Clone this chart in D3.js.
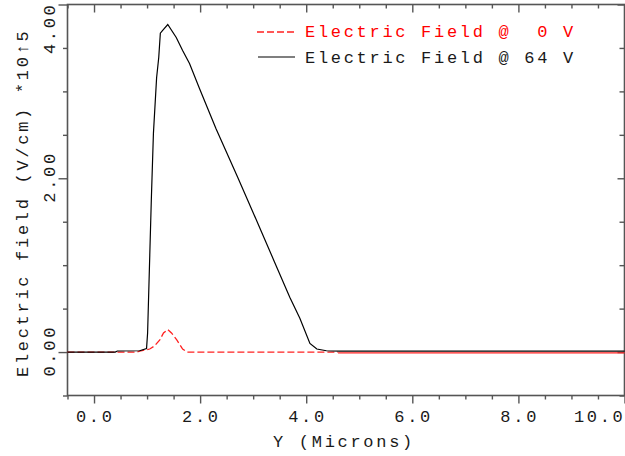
<!DOCTYPE html>
<html>
<head>
<meta charset="utf-8">
<script src="https://cdn.jsdelivr.net/npm/d3@7"></script>
<style>
    body { margin: 0; background: #fff; }
    svg { display: block; }
    text { font-family: "Liberation Mono", "DejaVu Sans Mono", monospace; font-size: 17px; letter-spacing: 2.7px; fill: #1a1a1a; }
</style>
</head>
<body>
<script>
"use strict";

// Black curve: Electric Field @ 64 V (units of 1e5 V/cm)
const xBlack = [-0.5, 0.40, 0.44, 0.86, 0.99, 1.01, 1.08, 1.12, 1.18, 1.22, 1.25, 1.29, 1.39, 1.55, 1.67, 1.80,
    1.99, 2.30, 2.71, 3.16, 3.40, 3.69, 3.88, 4.07, 4.20, 4.38, 4.62, 6.0, 8.0, 10.0];
const yBlack = [0, 0, 0.012, 0.015, 0.04, 0.22, 1.75, 2.52, 3.16, 3.39, 3.67, 3.70, 3.77, 3.62, 3.47, 3.32,
    3.03, 2.57, 2.01, 1.38, 1.04, 0.63, 0.39, 0.10, 0.035, 0.015, 0.01, 0.01, 0.01, 0.01];

// Red curve: Electric Field @ 0 V
const xRed = [-0.5, 0.80, 0.86, 1.05, 1.14, 1.24, 1.31, 1.39, 1.46, 1.56, 1.67, 1.76, 4.6, 6.0, 8.0, 10.0];
const yRed = [0, 0, 0.01, 0.035, 0.07, 0.14, 0.22, 0.26, 0.22, 0.14, 0.035, 0, 0, 0, 0, 0];

const xTickValues = [0, 2, 4, 6, 8, 10];
const xTickLabels = ["0.0", "2.0", "4.0", "6.0", "8.0", "10.0"];
const yTickValues = [0, 2, 4];
const yTickLabels = ["0.00", "2.00", "4.00"];

const legendNames = ["Electric Field @\u00A0\u00A00 V", "Electric Field @ 64 V"];

const width = 625, height = 456;
const pLeft = 67.5, pRight = 624.5, pTop = 4.5, pBottom = 395.5;

const svg = d3.select('body').append('svg')
    .attr('width', width)
    .attr('height', height);

const x = d3.scaleLinear().domain([-0.5, 10]).range([pLeft, pRight]);
const y = d3.scaleLinear().domain([-0.5, 4]).range([pBottom, pTop]);

const xMinor = d3.range(-0.5, 10.01, 0.5).filter(v => !xTickValues.includes(v));
const yMinor = d3.range(-0.5, 4.01, 0.5).filter(v => !yTickValues.includes(v));

function tickAxis(axis, g) {
    g.call(axis);
    g.select('.domain').remove();
    g.selectAll('line').attr('stroke', '#555').attr('stroke-width', 1.4);
}

// bottom & top (ticks pointing down), left & right (ticks pointing left)
[[pBottom, 8, 4], [pTop, 8, 4]].forEach(([yy, big, small]) => {
    tickAxis(d3.axisBottom(x).tickValues(xTickValues).tickSize(big).tickFormat(''),
        svg.append('g').attr('transform', `translate(0,${yy})`));
    tickAxis(d3.axisBottom(x).tickValues(xMinor).tickSize(small).tickFormat(''),
        svg.append('g').attr('transform', `translate(0,${yy})`));
});
[[pLeft, 9, 4.5], [pRight, 7, 5]].forEach(([xx, big, small]) => {
    tickAxis(d3.axisLeft(y).tickValues(yTickValues).tickSize(big).tickFormat(''),
        svg.append('g').attr('transform', `translate(${xx},0)`));
    tickAxis(d3.axisLeft(y).tickValues(yMinor).tickSize(small).tickFormat(''),
        svg.append('g').attr('transform', `translate(${xx},0)`));
});

// frame
svg.append('rect')
    .attr('x', pLeft).attr('y', pTop)
    .attr('width', pRight - pLeft).attr('height', pBottom - pTop)
    .attr('fill', 'none')
    .attr('stroke', '#555')
    .attr('stroke-width', 1.6);

const line = d3.line().x(d => x(d[0])).y(d => y(d[1]));

const red = d3.zip(xRed, yRed);
const redSplit = 4.6;   // dashes merge into a solid line past here
svg.append('path')
    .datum(red.filter(d => d[0] <= redSplit))
    .attr('d', line)
    .attr('fill', 'none')
    .attr('stroke', '#ff2020')
    .attr('stroke-width', 1.3)
    .attr('stroke-dasharray', '7,3');
svg.append('path')
    .datum(red.filter(d => d[0] >= redSplit))
    .attr('d', d3.line().x(d => x(d[0])).y(d => y(d[1]) + 0.8))
    .attr('fill', 'none')
    .attr('stroke', '#ff2020')
    .attr('stroke-width', 1.3);

svg.append('path')
    .datum(d3.zip(xBlack, yBlack))
    .attr('d', line)
    .attr('fill', 'none')
    .attr('stroke', '#000')
    .attr('stroke-width', 1.2);

// x tick labels
svg.selectAll('.xlab')
    .data(xTickValues)
    .enter().append('text')
    .attr('class', 'xlab')
    .attr('x', (d, i) => i === xTickValues.length - 1 ? x(d) + 1 : x(d) + 1.3)
    .attr('y', 422)
    .attr('text-anchor', (d, i) => i === xTickValues.length - 1 ? 'end' : 'middle')
    .text((d, i) => xTickLabels[i]);

// y tick labels (rotated)
svg.selectAll('.ylab')
    .data(yTickValues)
    .enter().append('text')
    .attr('class', 'ylab')
    .attr('transform', (d, i) => i === yTickValues.length - 1
        ? `translate(55,${y(d) - 2}) rotate(-90)`
        : `translate(55,${y(d) - 1.3}) rotate(-90)`)
    .attr('text-anchor', (d, i) => i === yTickValues.length - 1 ? 'end' : 'middle')
    .text((d, i) => yTickLabels[i]);

// axis titles
svg.append('text')
    .attr('x', (pLeft + pRight) / 2 - 2)
    .attr('y', 447)
    .attr('text-anchor', 'middle')
    .text('Y (Microns)');

svg.append('text')
    .attr('transform', 'translate(28,377) rotate(-90)')
    .attr('text-anchor', 'start')
    .text('Electric field (V/cm) *10\u21915');

// legend
const legend = svg.append('g');
legend.append('line')
    .attr('x1', 257).attr('x2', 297).attr('y1', 32).attr('y2', 32)
    .attr('stroke', '#ff2020').attr('stroke-width', 1.3)
    .attr('stroke-dasharray', '7,3');
legend.append('text')
    .attr('x', 305).attr('y', 37)
    .style('fill', '#ff0000')
    .text(legendNames[0]);
legend.append('line')
    .attr('x1', 258).attr('x2', 295).attr('y1', 57).attr('y2', 57)
    .attr('stroke', '#555').attr('stroke-width', 1.4);
legend.append('text')
    .attr('x', 305).attr('y', 63)
    .text(legendNames[1]);
</script>
</body>
</html>
